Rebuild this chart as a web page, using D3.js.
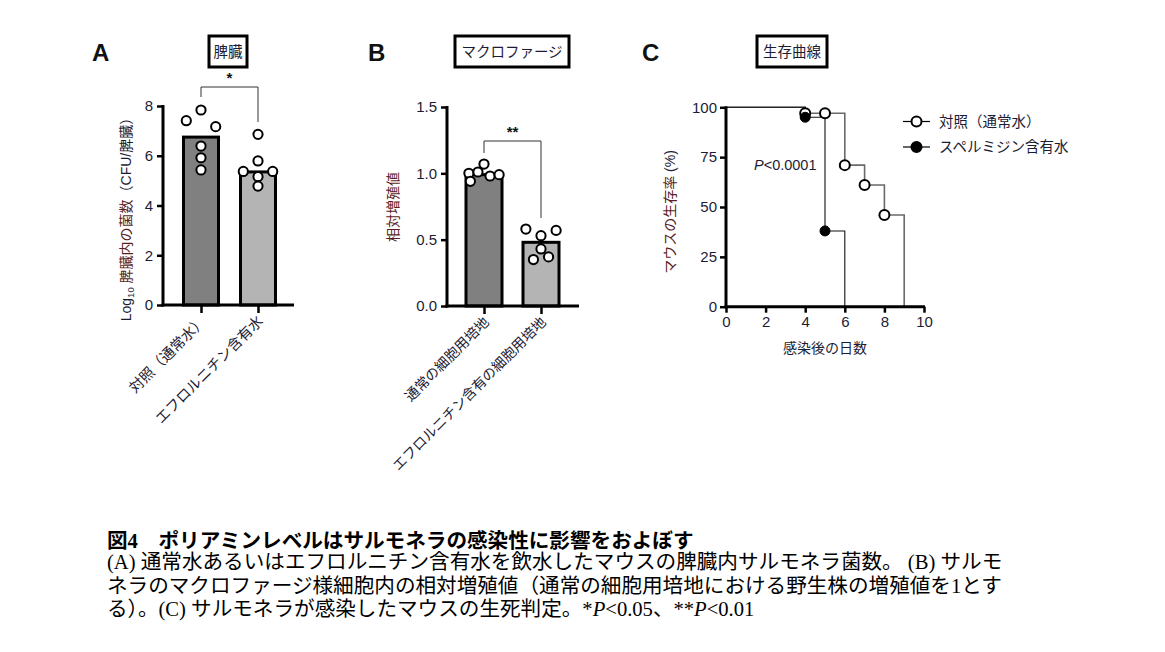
<!DOCTYPE html>
<html>
<head>
<meta charset="utf-8">
<script src="https://cdn.jsdelivr.net/npm/d3@7"></script>
<style>
  body { margin: 0; background: #fff; }
  svg text { font-family: "Liberation Sans", Arial, "Noto Sans CJK JP", sans-serif; }
  .tick text { fill: #1c1c34; font-size: 15px; }
  .ax path, .ax line { stroke: #000; }
</style>
</head>
<body>
<svg id="fig" width="1165" height="652"></svg>
<script>
// panel A : spleen CFU
const catsA = ['対照（通常水）', 'エフロルニチン含有水']
const meansA = [6.75, 5.35]
const dotsA = [
  [7.84, 7.41, 7.17, 6.39, 5.92, 5.43],
  [6.86, 5.79, 5.37, 5.37, 5.16, 4.78]
]
const jitterA = [[0, -1, 1, 0, 0, 0], [0, 0, -1, 1, 0, 0]]
const ticksA = [0, 2, 4, 6, 8]

// panel B : macrophage growth
const catsB = ['通常の細胞用培地', 'エフロルニチン含有の細胞用培地']
const meansB = [0.99, 0.48]
const dotsB = [
  [1.07, 1.00, 1.01, 0.98, 0.99, 0.94],
  [0.58, 0.53, 0.57, 0.43, 0.35, 0.37]
]
const jitterB = [[0, -1, -0.4, 0.4, 1, -0.9], [-1, 0, 1, 0, -0.5, 0.5]]
const ticksB = [0, 0.5, 1.0, 1.5]

// panel C : survival
const ctrlDays = [0, 4, 5, 6, 7, 8, 9]
const ctrlSurv = [100, 97, 97, 71, 61, 46, 0]
const sperDays = [0, 4, 5, 6]
const sperSurv = [100, 95, 38, 0]
const ticksCx = [0, 2, 4, 6, 8, 10]
const ticksCy = [0, 25, 50, 75, 100]

const svg = d3.select('#fig')
const dark = '#1c1c34'
const maroon = '#5a1e24'

function titleBox(x0, x1, label) {
  svg.append('rect').attr('x', x0).attr('y', 36).attr('width', x1 - x0).attr('height', 31)
    .attr('fill', '#fff').attr('stroke', '#000').attr('stroke-width', 3)
  svg.append('text').attr('x', (x0 + x1) / 2).attr('y', 57).attr('text-anchor', 'middle')
    .attr('font-size', 14.5).attr('fill', dark).text(label)
}

function letter(x, t) {
  svg.append('text').attr('x', x).attr('y', 61).attr('font-size', 24)
    .attr('font-weight', 'bold').attr('fill', '#111').text(t)
}

function barPanel(o) {
  const g = svg.append('g')
  const y = d3.scaleLinear().domain(o.ydom).range([o.y0, o.y1])
  const x = d3.scalePoint().domain(o.cats).range(o.xr)

  // bars
  g.selectAll('rect.bar').data(o.means).enter().append('rect')
    .attr('x', (d, i) => x(o.cats[i]) - o.bw / 2)
    .attr('y', d => y(d))
    .attr('width', o.bw)
    .attr('height', d => y(0) - y(d))
    .attr('fill', (d, i) => i == 0 ? '#808080' : '#b4b4b4')
    .attr('stroke', '#000').attr('stroke-width', 3)

  // dots
  o.dots.forEach((arr, i) => {
    g.selectAll(null).data(arr).enter().append('circle')
      .attr('cx', (d, j) => x(o.cats[i]) + o.jit[i][j] * o.bw * 0.42)
      .attr('cy', d => y(d))
      .attr('r', 4.6)
      .attr('fill', '#fff').attr('stroke', '#000').attr('stroke-width', 2)
  })

  // y axis
  g.append('g').attr('class', 'ax').attr('transform', `translate(${o.ax},0)`)
    .call(d3.axisLeft(y).tickValues(o.ticks).tickSize(6).tickSizeOuter(0).tickPadding(4)
      .tickFormat(o.fmt))
    .call(s => s.select('.domain').attr('stroke-width', 3).attr('d', `M0,${o.y1 - 1}V${o.y0 + 1.5}`))
    .call(s => s.selectAll('.tick line').attr('stroke-width', 2.5))
  // x axis
  g.append('line').attr('x1', o.ax - 1.5).attr('x2', o.axEnd).attr('y1', o.y0).attr('y2', o.y0)
    .attr('stroke', '#000').attr('stroke-width', 3)
  g.append('g').attr('class', 'ax').attr('transform', `translate(0,${o.y0})`)
    .call(d3.axisBottom(x).tickSize(8).tickFormat(''))
    .call(s => s.select('.domain').remove())
    .call(s => s.selectAll('.tick line').attr('stroke-width', 2.5))

  // category labels
  o.cats.forEach(c => {
    g.append('text')
      .attr('transform', `translate(${x(c) + 6},${o.y0 + 17}) rotate(-45)`)
      .attr('text-anchor', 'end').attr('font-size', o.catSize).attr('fill', dark)
      .text(c)
  })

  // significance bracket
  const xa = x(o.cats[0]), xb = x(o.cats[1])
  g.append('path')
    .attr('d', `M${xa},${o.br[1]}V${o.br[0]}H${xb}V${o.br[2]}`)
    .attr('fill', 'none').attr('stroke', '#333').attr('stroke-width', 1)
  g.append('text').attr('x', (xa + xb) / 2).attr('y', o.br[0] - 4)
    .attr('text-anchor', 'middle').attr('font-size', 15).attr('font-weight', 'bold')
    .attr('fill', '#111').text(o.star)
}

letter(92, 'A')
titleBox(209, 247, '脾臓')
barPanel({
  cats: catsA, means: meansA, dots: dotsA, jit: jitterA, ticks: ticksA,
  ydom: [0, 8], y0: 305, y1: 106, xr: [201, 258], bw: 35, ax: 163, axEnd: 294,
  fmt: d3.format('d'), br: [87, 97, 122], star: '*', catSize: 14.5
})
// y label A
const la = svg.append('text')
  .attr('transform', 'translate(131,216) rotate(-90)')
  .attr('text-anchor', 'middle').attr('font-size', 14).attr('fill', dark)
la.append('tspan').text('Log')
la.append('tspan').attr('font-size', 9.5).attr('dy', 3).text('10')
la.append('tspan').attr('dy', -3).text(' ')
la.append('tspan').attr('fill', maroon).text('脾臓内の菌数')
la.append('tspan').text('（CFU/脾臓）')

letter(368, 'B')
titleBox(455, 569, 'マクロファージ')
barPanel({
  cats: catsB, means: meansB, dots: dotsB, jit: jitterB, ticks: ticksB,
  ydom: [0, 1.5], y0: 306, y1: 107, xr: [484, 541], bw: 36, ax: 447, axEnd: 579,
  fmt: d3.format('.1f'), br: [141, 153, 218], star: '**', catSize: 14
})
svg.append('text').attr('transform', 'translate(398,207) rotate(-90)')
  .attr('text-anchor', 'middle').attr('font-size', 14).attr('fill', maroon).text('相対増殖値')

// panel C
letter(642, 'C')
titleBox(757, 827, '生存曲線')
{
  const g = svg.append('g')
  const x = d3.scaleLinear().domain([0, 10]).range([726, 924])
  const y = d3.scaleLinear().domain([0, 100]).range([306.7, 107.3])
  const line = d3.line().x(d => x(d[0])).y(d => y(d[1])).curve(d3.curveStepAfter)
  const ctrl = ctrlDays.map((d, i) => [d, ctrlSurv[i]])
  const sper = sperDays.map((d, i) => [d, sperSurv[i]])

  g.append('path').attr('d', line(ctrl)).attr('fill', 'none')
    .attr('stroke', '#6a6a6a').attr('stroke-width', 1.6)
  g.append('path').attr('d', line(sper)).attr('fill', 'none')
    .attr('stroke', '#111').attr('stroke-width', 1.1)

  g.selectAll('circle.c').data(ctrl.filter(d => d[0] > 0 && d[1] > 0)).enter().append('circle')
    .attr('cx', d => x(d[0])).attr('cy', d => y(d[1])).attr('r', 5)
    .attr('fill', '#fff').attr('stroke', '#000').attr('stroke-width', 2)
  g.selectAll('circle.s').data(sper.filter(d => d[0] > 0 && d[1] > 0)).enter().append('circle')
    .attr('cx', d => x(d[0])).attr('cy', d => y(d[1])).attr('r', 5)
    .attr('fill', '#000').attr('stroke', '#000').attr('stroke-width', 1)

  g.append('g').attr('class', 'ax').attr('transform', 'translate(726,0)')
    .call(d3.axisLeft(y).tickValues(ticksCy).tickSize(6).tickSizeOuter(0).tickPadding(3))
    .call(s => s.select('.domain').attr('stroke-width', 3).attr('d', `M0,106.3V308.2`))
    .call(s => s.selectAll('.tick line').attr('stroke-width', 2.5))
  g.append('g').attr('class', 'ax').attr('transform', 'translate(0,306.7)')
    .call(d3.axisBottom(x).tickValues(ticksCx).tickSize(6).tickSizeOuter(0).tickPadding(4))
    .call(s => s.select('.domain').attr('stroke-width', 3).attr('d', `M724.5,0H925`))
    .call(s => s.selectAll('.tick line').attr('stroke-width', 2.5))

  svg.append('text').attr('transform', 'translate(675,212) rotate(-90)')
    .attr('text-anchor', 'middle').attr('font-size', 14).attr('fill', maroon)
    .call(t => {
      t.append('tspan').text('マウスの生存率')
      t.append('tspan').attr('fill', dark).text(' (%)')
    })
  svg.append('text').attr('x', 825).attr('y', 353).attr('text-anchor', 'middle')
    .attr('font-size', 14).attr('fill', dark).text('感染後の日数')

  const p = svg.append('text').attr('x', 754).attr('y', 170).attr('font-size', 14.5).attr('fill', dark)
  p.append('tspan').attr('font-style', 'italic').text('P')
  p.append('tspan').text('<0.0001')

  // legend
  const leg = [['対照（通常水）', '#fff'], ['スペルミジン含有水', '#000']]
  leg.forEach((l, i) => {
    const ly = 121.5 + i * 25.5
    svg.append('line').attr('x1', 903).attr('x2', 930).attr('y1', ly).attr('y2', ly)
      .attr('stroke', '#000').attr('stroke-width', 1.2)
    svg.append('circle').attr('cx', 916.5).attr('cy', ly).attr('r', 5)
      .attr('fill', l[1]).attr('stroke', '#000').attr('stroke-width', 2)
    svg.append('text').attr('x', 939).attr('y', ly + 5).attr('font-size', 14.5)
      .attr('fill', dark).text(l[0])
  })
}

// caption
const cap = svg.append('g').attr('font-size', 20.6).attr('fill', '#000')
cap.append('text').attr('x', 107).attr('y', 548).attr('font-weight', 'bold')
  .style('font-family', '"Liberation Serif", "Noto Sans CJK JP", serif')
  .text('図4　ポリアミンレベルはサルモネラの感染性に影響をおよぼす')
const capLines = [
  ['(A) 通常水あるいはエフロルニチン含有水を飲水したマウスの脾臓内サルモネラ菌数。 (B) サルモ'],
  ['ネラのマクロファージ様細胞内の相対増殖値（通常の細胞用培地における野生株の増殖値を1とす'],
  ['る）。(C) サルモネラが感染したマウスの生死判定。*', ['P'], '<0.05、**', ['P'], '<0.01']
]
capLines.forEach((parts, i) => {
  const t = cap.append('text').attr('x', 107).attr('y', 569 + i * 23.5)
    .style('font-family', '"Liberation Serif", "Noto Sans CJK JP", serif')
  parts.forEach(pt => {
    if (Array.isArray(pt)) t.append('tspan').attr('font-style', 'italic').text(pt[0])
    else t.append('tspan').text(pt)
  })
})
</script>
</body>
</html>
